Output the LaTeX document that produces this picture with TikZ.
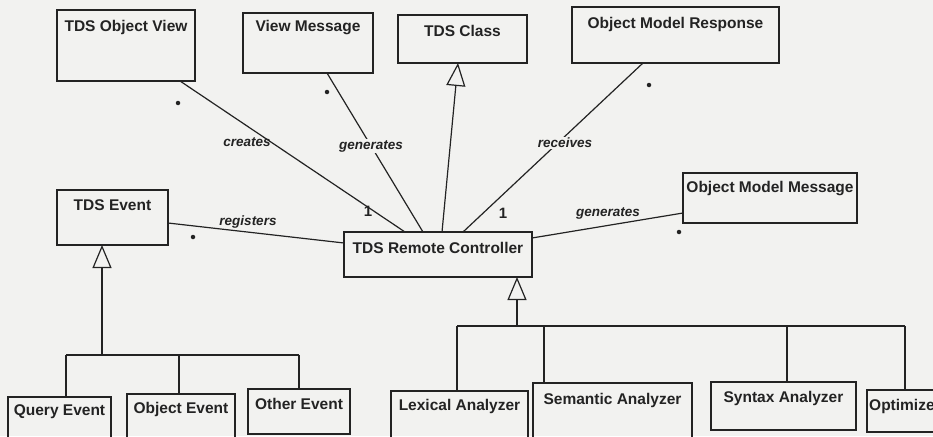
\documentclass[tikz,border=0pt]{standalone}
\usepackage{fontspec}
\setmainfont{Liberation Sans}
\usetikzlibrary{arrows.meta}
\usepackage{xcolor}
\definecolor{paper}{RGB}{242,242,240}
\definecolor{ink}{RGB}{35,35,35}

\begin{document}
\begin{tikzpicture}[
    x=1pt,
    y=-1pt,
    box/.style={
        draw=ink,
        line width=1.3pt,
        inner sep=0pt,
        outer sep=0pt,
        anchor=north west
    },
    title/.style={
        text=ink,
        font=\fontsize{15.5}{17}\selectfont\bfseries
    },
    role/.style={
        text=ink,
        inner sep=1pt,
        font=\fontsize{13.5}{15}\selectfont\bfseries\itshape
    },
    mult/.style={
        text=ink,
        inner sep=0pt,
        font=\fontsize{15}{17}\selectfont\bfseries
    },
    many/.style={
        circle,
        fill=ink,
        inner sep=0pt,
        minimum size=4.5pt
    },
    link/.style={
        draw=ink,
        line width=1.2pt
    },
    inherit/.style={
        link,
        -{Triangle[open, length=23pt, width=19pt, line width=1.2pt]}
    }
]

\path[use as bounding box, fill=paper] (0,0) rectangle (933,436);
\clip (0,0) rectangle (933,436);

% ---------------- Top row ----------------

\node[box, minimum width=138pt, minimum height=71pt] (objview) at (57,10) {};
\node[title] at ([yshift=-17pt]objview.north) {TDS Object View};

\node[box, minimum width=130pt, minimum height=60pt] (viewmsg) at (243,13) {};
\node[title] at ([yshift=-15pt]viewmsg.north) {View Message};

\node[box, minimum width=129pt, minimum height=48pt] (tdsclass) at (398,15) {};
\node[title] at ([yshift=-16pt]tdsclass.north) {TDS Class};

\node[box, minimum width=207pt, minimum height=56pt] (omresp) at (572,7) {};
\node[title] at ([yshift=-17pt]omresp.north) {Object Model Response};

% ---------------- Middle row ----------------

\node[box, minimum width=111pt, minimum height=55pt] (event) at (57,190) {};
\node[title] at ([yshift=-15pt]event.north) {TDS Event};

\node[box, minimum width=188pt, minimum height=45pt] (controller) at (344,232) {};
\node[title] at ([yshift=-16pt]controller.north) {TDS Remote Controller};

\node[box, minimum width=174pt, minimum height=50pt] (ommsg) at (683,173) {};
\node[title] at ([yshift=-16pt]ommsg.north) {Object Model Message};

% ---------------- Events ----------------

\node[box, minimum width=103pt, minimum height=60pt] (query) at (8,397) {};
\node[title] at ([yshift=-15pt]query.north) {Query Event};

\node[box, minimum width=108pt, minimum height=60pt] (objevent) at (127,394) {};
\node[title] at ([yshift=-15pt]objevent.north) {Object Event};

\node[box, minimum width=102pt, minimum height=45pt] (other) at (248,389) {};
\node[title] at ([yshift=-15pt]other.north) {Other Event};

% ---------------- Analyzers ----------------

\node[box, minimum width=137pt, minimum height=60pt] (lexical) at (391,391) {};
\node[title] at ([yshift=-15pt]lexical.north) {Lexical Analyzer};

\node[box, minimum width=159pt, minimum height=60pt] (semantic) at (533,383) {};
\node[title] at ([yshift=-17pt]semantic.north) {Semantic Analyzer};

\node[box, minimum width=145pt, minimum height=48pt] (syntax) at (711,382) {};
\node[title] at ([yshift=-16pt]syntax.north) {Syntax Analyzer};

\node[box, minimum width=90pt, minimum height=42pt] (optimize) at (867,390) {};
\node[title, anchor=west, inner sep=0pt] at ([xshift=2pt, yshift=-16pt]optimize.north west) {Optimize};

% ---------------- Associations ----------------

\draw[link] ([xshift=-15pt]objview.south east) -- ([xshift=61pt]controller.north west);
\draw[link] ([xshift=-46pt]viewmsg.south east) -- ([xshift=79pt]controller.north west);
\draw[link] ([xshift=71pt]omresp.south west) -- ([xshift=119pt]controller.north west);
\draw[link] ([yshift=-6pt]controller.north east) -- ([yshift=10pt]ommsg.south west);
\draw[link] ([yshift=22pt]event.south east) -- ([yshift=-11pt]controller.north west);
\draw[inherit] ([xshift=98pt]controller.north west) -- ([xshift=60pt]tdsclass.south west);

\node[role] (creates) at (247,142) {creates};
\node[role, fill=paper] (genview) at (371,146) {generates};
\node[role, fill=paper] (receives) at (565,143) {receives};
\node[role] (genmodel) at (608,213) {generates};
\node[role] (registers) at (248,222) {registers};

\node[mult] (oneview) at (368,211) {1};
\node[mult] (oneresp) at (503,213) {1};

\node[many] (manyobj) at (178,103) {};
\node[many] (manymsg) at (327,92) {};
\node[many] (manyresp) at (649,85) {};
\node[many] (manyevent) at (193,237) {};
\node[many] (manymodel) at (679,232) {};

% ---------------- Generalizations ----------------

\coordinate (evbus) at (102,355);
\coordinate (busquery) at (66,355);
\coordinate (busobject) at (179,355);
\coordinate (busother) at (299,355);

\draw[link] (busquery) -- (busother);
\draw[link] (busquery) -- (busquery |- query.north);
\draw[link] (busobject) -- (busobject |- objevent.north);
\draw[link] (busother) -- (busother |- other.north);
\draw[inherit] (evbus) -- (evbus |- event.south);

\coordinate (ctrlbus) at (517,326);
\coordinate (buslex) at (457,326);
\coordinate (bussem) at (544,326);
\coordinate (bussyn) at (787,326);
\coordinate (busopt) at (905,326);

\draw[link] (buslex) -- (busopt);
\draw[link] (buslex) -- (buslex |- lexical.north);
\draw[link] (bussem) -- (bussem |- semantic.north);
\draw[link] (bussyn) -- (bussyn |- syntax.north);
\draw[link] (busopt) -- (busopt |- optimize.north);
\draw[inherit] (ctrlbus) -- (ctrlbus |- controller.south);

\end{tikzpicture}
\end{document}
